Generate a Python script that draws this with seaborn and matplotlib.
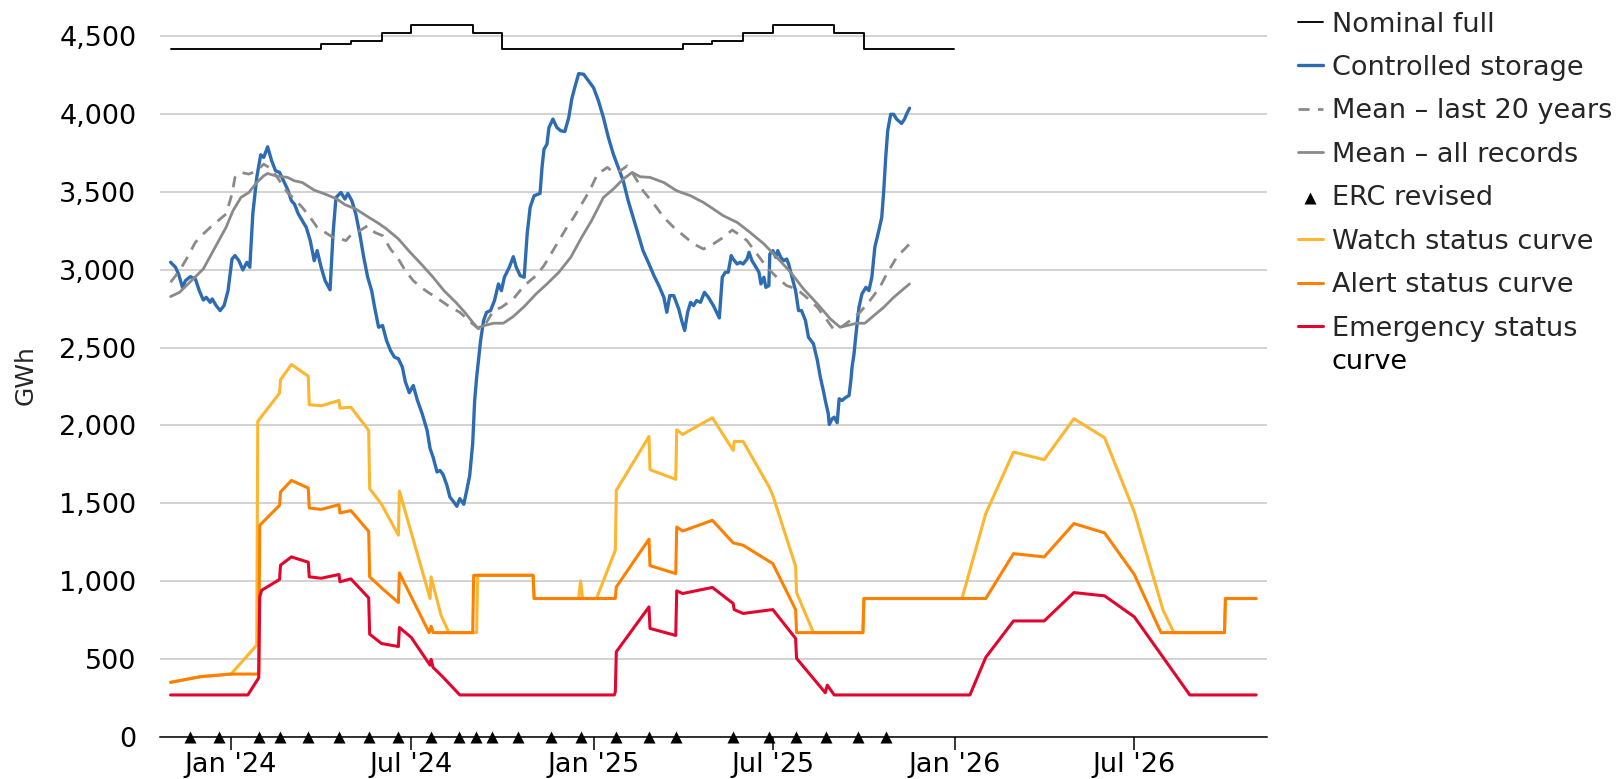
import pandas as pd
import matplotlib
matplotlib.use('Agg')
import matplotlib.pyplot as plt
import matplotlib.dates as mdates
from matplotlib.ticker import FuncFormatter
import seaborn as sns

# ─────────────────────────────────────────
# DATA
# ─────────────────────────────────────────
START = '2023-11-01'

# nominal full storage, step changes at the start of each month
nominal_dates = ['2023-11-01', '2024-04-01', '2024-05-01', '2024-06-01', '2024-07-01',
                 '2024-09-01', '2024-10-01', '2025-04-01', '2025-05-01', '2025-06-01',
                 '2025-07-01', '2025-09-01', '2025-10-01', '2025-12-31']
nominal_gwh = [4415, 4445, 4467, 4517, 4568, 4517, 4415, 4445, 4467, 4517,
               4568, 4517, 4415, 4415]

# controlled storage, days since START
storage_day = [0, 5, 8, 12, 15, 20, 25, 29, 33, 36, 40, 42, 46, 50, 54, 58, 62, 65, 69, 73,
               77, 80, 83, 87, 91, 94, 98, 102, 106, 110, 114, 118, 122, 125, 129, 133, 137,
               141, 145, 148, 152, 156, 161, 164, 167, 172, 176, 179, 183, 187, 191, 195,
               199, 203, 206, 210, 214, 218, 222, 226, 230, 234, 237, 241, 245, 249, 254,
               259, 262, 265, 269, 272, 275, 279, 282, 286, 289, 292, 296, 299, 302, 305,
               307, 309, 313, 316, 319, 323, 327, 331, 334, 337, 342, 346, 349, 353, 357,
               360, 363, 367, 373, 375, 377, 380, 382, 386, 390, 394, 398, 402, 405, 408,
               412, 417, 422, 427, 432, 437, 442, 447, 452, 457, 462, 467, 472, 477, 483,
               488, 493, 498, 501, 504, 508, 513, 516, 519, 522, 525, 528, 531, 535, 539,
               543, 548, 552, 554, 557, 560, 563, 566, 568, 572, 575, 578, 582, 584, 587,
               590, 594, 596, 599, 601, 604, 605, 608, 611, 613, 616, 619, 622, 624, 627,
               631, 634, 637, 641, 644, 649, 653, 656, 659, 661, 664, 665, 668, 670, 673,
               675, 678, 681, 685, 687, 688, 690, 692, 695, 698, 702, 705, 708, 711, 715,
               718, 720, 722, 724, 727, 730, 733, 738, 741, 743, 746]
storage_gwh = [3047, 3015, 2972, 2886, 2929, 2955, 2940, 2865, 2805, 2822, 2790, 2812, 2769,
               2737, 2769, 2865, 3068, 3090, 3057, 2998, 3047, 3015, 3357, 3592, 3737, 3720,
               3788, 3699, 3634, 3624, 3570, 3517, 3442, 3421, 3357, 3314, 3271, 3186, 3057,
               3122, 3015, 2929, 2870, 3229, 3463, 3495, 3453, 3489, 3442, 3357, 3229, 3079,
               2951, 2865, 2758, 2630, 2641, 2545, 2481, 2438, 2428, 2374, 2280, 2210, 2256,
               2165, 2075, 1968, 1851, 1797, 1701, 1711, 1686, 1615, 1540, 1508, 1481, 1530,
               1494, 1583, 1679, 1883, 2160, 2309, 2545, 2673, 2726, 2737, 2801, 2908, 2865,
               2951, 3015, 3083, 3015, 2961, 2951, 3229, 3399, 3474, 3489, 3656, 3773, 3805,
               3912, 3966, 3912, 3891, 3886, 3976, 4094, 4168, 4258, 4254, 4211, 4168, 4083,
               3976, 3848, 3741, 3656, 3570, 3442, 3335, 3229, 3122, 3036, 2961, 2897, 2822,
               2726, 2833, 2833, 2748, 2673, 2609, 2726, 2790, 2769, 2801, 2790, 2854, 2822,
               2769, 2716, 2690, 2951, 2983, 2983, 3090, 3068, 3036, 3047, 3036, 3068, 3111,
               3057, 3026, 2983, 2908, 2951, 2886, 2897, 3100, 3122, 3079, 3122, 3079, 3057,
               3068, 3036, 2961, 2865, 2737, 2737, 2673, 2566, 2524, 2417, 2309, 2224, 2160,
               2075, 2006, 2043, 2053, 2017, 2171, 2160, 2177, 2192, 2300, 2374, 2459, 2588,
               2758, 2844, 2886, 2865, 2951, 3143, 3250, 3335, 3506, 3720, 3891, 3997, 3997,
               3966, 3938, 3966, 3997, 4036]

# mean - last 20 years, days since START
mean20_day = [0, 9, 17, 25, 33, 40, 48, 56, 62, 65, 71, 79, 87, 94, 102, 110, 118, 125, 133,
              141, 148, 156, 164, 172, 177, 183, 191, 199, 206, 214, 222, 230, 237, 245, 253,
              260, 268, 280, 292, 303, 311, 319, 326, 334, 346, 357, 369, 377, 384, 392, 400,
              407, 415, 423, 431, 441, 447, 454, 461, 467, 477, 488, 498, 508, 518, 528, 538,
              548, 558, 567, 573, 582, 592, 602, 612, 622, 632, 642, 653, 663, 669, 678, 686,
              696, 706, 716, 723, 733, 746]
mean20_gwh = [2919, 2993, 3079, 3175, 3229, 3271, 3314, 3357, 3485, 3592, 3624, 3613, 3634,
              3677, 3645, 3570, 3495, 3453, 3399, 3335, 3271, 3239, 3207, 3197, 3186, 3229,
              3250, 3282, 3239, 3218, 3132, 3068, 2993, 2929, 2886, 2854, 2822, 2769, 2726,
              2662, 2620, 2662, 2737, 2758, 2812, 2897, 2961, 3026, 3100, 3186, 3271, 3335,
              3421, 3506, 3613, 3656, 3624, 3634, 3666, 3613, 3506, 3421, 3335, 3271, 3218,
              3165, 3132, 3165, 3207, 3254, 3229, 3186, 3100, 3015, 2951, 2897, 2876, 2822,
              2758, 2673, 2620, 2635, 2673, 2726, 2801, 2886, 2972, 3079, 3165]

# mean - all records, days since START
meanall_day = [0, 9, 21, 33, 44, 56, 63, 71, 79, 87, 94, 98, 106, 118, 125, 133, 145, 156,
               168, 176, 187, 199, 210, 218, 230, 241, 253, 265, 276, 288, 297, 305, 310, 317,
               326, 336, 346, 357, 369, 380, 392, 404, 415, 425, 437, 447, 457, 466, 474, 484,
               498, 511, 525, 538, 548, 558, 572, 585, 599, 612, 626, 639, 653, 666, 676, 683,
               693, 701, 710, 720, 730, 740, 746]
meanall_gwh = [2827, 2854, 2929, 3004, 3132, 3271, 3378, 3463, 3495, 3559, 3602, 3617, 3602,
               3592, 3570, 3559, 3510, 3485, 3453, 3417, 3389, 3340, 3297, 3261, 3197, 3117,
               3036, 2951, 2865, 2790, 2726, 2662, 2626, 2641, 2656, 2656, 2699, 2763, 2844,
               2908, 2983, 3079, 3207, 3314, 3463, 3517, 3581, 3624, 3596, 3592, 3559, 3506,
               3474, 3431, 3389, 3346, 3303, 3239, 3165, 3079, 2983, 2876, 2780, 2684, 2630,
               2641, 2656, 2656, 2705, 2758, 2822, 2876, 2908]

erc_dates = ['2023-11-21', '2023-12-20', '2024-01-29', '2024-02-19', '2024-03-19',
             '2024-04-19', '2024-05-19', '2024-06-18', '2024-07-21', '2024-08-18',
             '2024-09-04', '2024-09-20', '2024-10-17', '2024-11-19', '2024-12-19',
             '2025-01-24', '2025-02-26', '2025-03-25', '2025-05-22', '2025-06-27',
             '2025-07-24', '2025-08-24', '2025-09-25', '2025-10-23']

watch_dates = ['2023-11-01', '2023-12-01', '2024-01-01', '2024-01-27', '2024-01-28',
               '2024-02-19', '2024-02-20', '2024-03-02', '2024-03-19', '2024-03-20',
               '2024-04-01', '2024-04-19', '2024-04-20', '2024-05-01', '2024-05-19',
               '2024-05-20', '2024-06-01', '2024-06-18', '2024-06-19', '2024-07-20',
               '2024-07-21', '2024-07-31', '2024-08-08', '2024-09-05', '2024-09-06',
               '2024-11-01', '2024-11-02', '2024-12-17', '2024-12-19', '2024-12-21',
               '2025-01-04', '2025-01-23', '2025-01-24', '2025-02-26', '2025-02-27',
               '2025-03-25', '2025-03-26', '2025-04-01', '2025-05-01', '2025-05-22',
               '2025-05-23', '2025-06-01', '2025-06-27', '2025-07-01', '2025-07-24',
               '2025-07-25', '2025-08-11', '2025-09-30', '2025-10-01', '2026-01-08',
               '2026-02-01', '2026-03-01', '2026-04-01', '2026-05-01', '2026-06-01',
               '2026-07-01', '2026-07-30', '2026-08-10', '2026-09-30', '2026-10-01',
               '2026-11-01']
watch_gwh = [351, 387, 404, 590, 2026, 2207, 2293, 2391, 2316, 2133, 2126, 2160, 2111, 2117,
             1968, 1594, 1494, 1295, 1579, 889, 1028, 782, 670, 670, 1038, 1038, 889, 889,
             1002, 889, 889, 1199, 1583, 1929, 1716, 1654, 1972, 1942, 2049, 1840, 1897,
             1897, 1609, 1551, 1096, 927, 670, 670, 889, 889, 1434, 1829, 1780, 2043, 1921,
             1444, 814, 670, 670, 889, 889]

alert_dates = ['2023-11-01', '2023-12-01', '2024-01-01', '2024-01-29', '2024-01-30',
               '2024-02-19', '2024-02-20', '2024-03-02', '2024-03-19', '2024-03-20',
               '2024-04-01', '2024-04-19', '2024-04-20', '2024-05-01', '2024-05-19',
               '2024-05-20', '2024-06-01', '2024-06-18', '2024-06-19', '2024-07-19',
               '2024-07-21', '2024-07-23', '2024-09-01', '2024-09-02', '2024-11-01',
               '2024-11-02', '2025-01-23', '2025-01-24', '2025-02-26', '2025-02-27',
               '2025-03-25', '2025-03-26', '2025-04-01', '2025-05-01', '2025-05-22',
               '2025-06-01', '2025-07-01', '2025-07-24', '2025-07-25', '2025-09-30',
               '2025-10-01', '2026-02-01', '2026-03-01', '2026-04-01', '2026-05-01',
               '2026-06-01', '2026-07-01', '2026-07-28', '2026-09-30', '2026-10-01',
               '2026-11-01']
alert_gwh = [351, 387, 404, 404, 1359, 1487, 1573, 1647, 1598, 1470, 1461, 1491, 1438, 1453,
             1320, 1028, 957, 863, 1053, 670, 711, 670, 670, 1038, 1038, 889, 889, 963, 1270,
             1100, 1049, 1348, 1322, 1391, 1246, 1231, 1113, 818, 670, 670, 889, 889, 1177,
             1156, 1370, 1310, 1043, 670, 670, 889, 889]

emergency_dates = ['2023-11-01', '2024-01-18', '2024-01-29', '2024-01-30', '2024-02-01',
                   '2024-02-19', '2024-02-20', '2024-03-02', '2024-03-19', '2024-03-20',
                   '2024-04-01', '2024-04-19', '2024-04-20', '2024-05-01', '2024-05-19',
                   '2024-05-20', '2024-06-01', '2024-06-18', '2024-06-19', '2024-07-01',
                   '2024-07-20', '2024-07-21', '2024-07-23', '2024-08-01', '2024-08-19',
                   '2025-01-22', '2025-01-23', '2025-01-24', '2025-02-26', '2025-02-27',
                   '2025-03-25', '2025-03-26', '2025-04-01', '2025-05-01', '2025-05-22',
                   '2025-05-23', '2025-06-01', '2025-07-01', '2025-07-24', '2025-07-25',
                   '2025-08-23', '2025-08-25', '2025-09-01', '2026-01-16', '2026-02-01',
                   '2026-03-01', '2026-04-01', '2026-05-01', '2026-06-01', '2026-07-01',
                   '2026-08-26', '2026-11-01']
emergency_gwh = [270, 270, 380, 900, 942, 1011, 1103, 1156, 1122, 1028, 1019, 1043, 996,
                 1015, 893, 660, 600, 581, 703, 639, 461, 498, 447, 391, 270, 270, 290, 547,
                 835, 697, 652, 938, 921, 960, 857, 818, 793, 818, 633, 505, 284, 333, 270,
                 270, 511, 745, 745, 927, 906, 771, 270, 270]

Y_TICKS = list(range(0, 5000, 500))
# ─────────────────────────────────────────


def by_date(dates, values):
    return pd.DataFrame({'date': pd.to_datetime(dates), 'gwh': values})


def by_day(days, values):
    dates = pd.Timestamp(START) + pd.to_timedelta(days, unit='D')
    return pd.DataFrame({'date': dates, 'gwh': values})


sns.set_theme(style='white')
plt.rcParams['font.family'] = ['DejaVu Sans']

FS = 19.5
fig = plt.figure(figsize=(16.18, 7.79), dpi=100)
ax = fig.add_axes([0.0989, 0.0539, 0.6842, 0.930])

line_kw = dict(ax=ax, x='date', y='gwh', estimator=None, sort=False)

sns.lineplot(data=by_date(nominal_dates, nominal_gwh), color='black', lw=1.35,
             drawstyle='steps-post', label='Nominal full', **line_kw)
sns.lineplot(data=by_day(storage_day, storage_gwh), color='#2d6cb3', lw=2.4,
             label='Controlled storage', **line_kw)
sns.lineplot(data=by_day(mean20_day, mean20_gwh), color='#8a8a8a', lw=2.0,
             linestyle=(0, (4, 3)), label='Mean – last 20 years', **line_kw)
sns.lineplot(data=by_day(meanall_day, meanall_gwh), color='#8a8a8a', lw=2.0,
             label='Mean – all records', **line_kw)
sns.scatterplot(x=pd.to_datetime(erc_dates), y=[0] * len(erc_dates), ax=ax,
                marker='^', s=75, color='black', linewidth=0, clip_on=False,
                zorder=5, label='ERC revised')
sns.lineplot(data=by_date(watch_dates, watch_gwh), color='#fdb62f', lw=2.2,
             label='Watch status curve', **line_kw)
sns.lineplot(data=by_date(alert_dates, alert_gwh), color='#ff8000', lw=2.2,
             label='Alert status curve', **line_kw)
sns.lineplot(data=by_date(emergency_dates, emergency_gwh), color='#e2062e', lw=2.2,
             label='Emergency status', **line_kw)

# axes
ax.set_xlim(pd.Timestamp('2023-10-21 08:00'), pd.Timestamp('2026-11-12'))
ax.set_ylim(0, 4650)
ax.set_yticks(Y_TICKS)
ax.yaxis.set_major_formatter(FuncFormatter(lambda v, p: f'{v:,.0f}'))
ax.xaxis.set_major_locator(mdates.MonthLocator(bymonth=[1, 7]))
ax.xaxis.set_major_formatter(mdates.DateFormatter("%b '%y"))
ax.set_xlabel('')
ax.set_ylabel('GWh', fontsize=18)
ax.yaxis.set_label_coords(-0.111, 0.5)

ax.tick_params(axis='y', length=0, pad=17, labelsize=FS, labelcolor='black')
ax.tick_params(axis='x', length=9.5, width=1.1, pad=1, labelsize=FS,
               direction='out', color='black', labelcolor='black', bottom=True)
ax.yaxis.grid(True, color='#c6c6c6', lw=1.1)
ax.xaxis.grid(False)
for side in ['left', 'top', 'right']:
    ax.spines[side].set_visible(False)
ax.spines['bottom'].set_color('black')
ax.spines['bottom'].set_linewidth(1.1)

# legend on the right
handles, labels = ax.get_legend_handles_labels()
leg = ax.legend(handles, labels, loc='upper left',
                bbox_to_anchor=(1298 / 1618, 1 - 11.5 / 779),
                bbox_transform=fig.transFigure, frameon=False, fontsize=FS,
                handlelength=0.92, handletextpad=0.33, labelspacing=0.645,
                borderpad=0, borderaxespad=0)

# wrap the last legend label onto a second line, as in the original
fig.canvas.draw()
last = leg.get_texts()[-1]
bb = last.get_window_extent()
fig.text(bb.x0 / fig.bbox.width, (bb.y1 - 33.5) / fig.bbox.height, 'curve',
         fontsize=FS, ha='left', va='top', color='black')

fig.savefig('out.png', dpi=100)
